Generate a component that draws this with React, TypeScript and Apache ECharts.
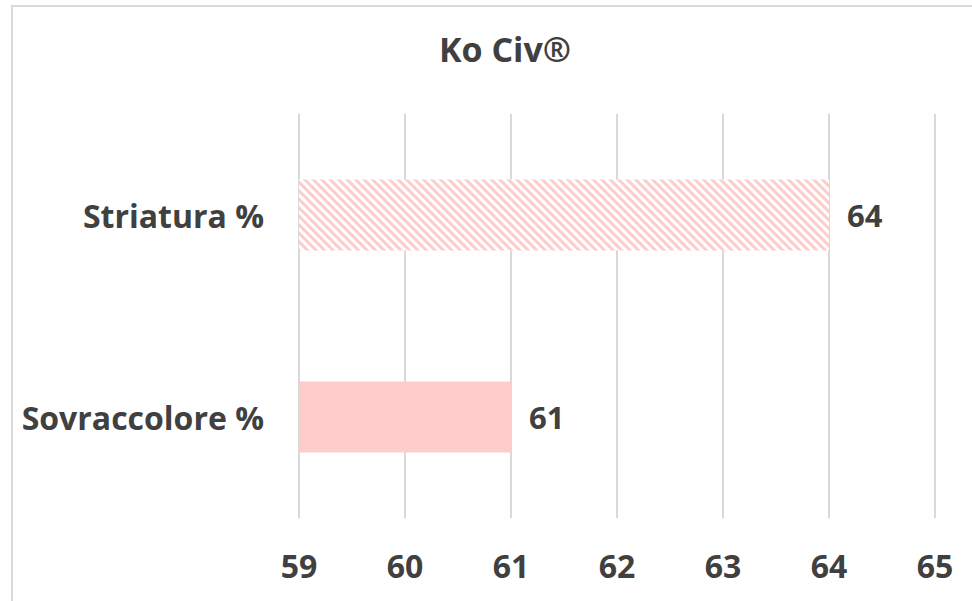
import React, { useEffect, useRef } from "react";
import * as echarts from "echarts";

const title = "Ko Civ®";
const categories = ["Sovraccolore %", "Striatura %"];
const values = [61, 64];
const hatched = [false, true];
const xMin = 59;
const xMax = 65;
const xInterval = 1;

export default function App() {
  const ref = useRef<HTMLDivElement>(null);
  useEffect(() => {
    if (!ref.current) return;
    const chart = echarts.init(ref.current, undefined, { renderer: "svg" });
    const textColor = "#404040";
    const font = "'Open Sans', sans-serif";
    chart.setOption({
      animation: false,
      backgroundColor: "#ffffff",
      title: {
        text: title,
        left: 500,
        textAlign: "center",
        top: 27,
        textStyle: { fontFamily: font, fontWeight: "bold", fontSize: 34, color: textColor },
      },
      graphic: [
        {
          type: "rect",
          shape: { x: 12, y: 6, width: 1000, height: 700 },
          style: { fill: "none", stroke: "#d9d9d9", lineWidth: 2 },
          silent: true,
        },
      ],
      grid: { left: 299, right: 37, top: 114, bottom: 83 },
      xAxis: {
        type: "value",
        min: xMin,
        max: xMax,
        interval: xInterval,
        axisLine: { show: false },
        axisTick: { show: false },
        splitLine: { show: true, lineStyle: { color: "#d9d9d9", width: 2 } },
        axisLabel: {
          margin: 31,
          fontFamily: font,
          fontWeight: "bold",
          fontSize: 32,
          color: textColor,
        },
      },
      yAxis: {
        type: "category",
        data: categories,
        axisLine: { show: false },
        axisTick: { show: false },
        axisLabel: {
          margin: 35,
          fontFamily: font,
          fontWeight: "bold",
          fontSize: 32,
          color: textColor,
        },
      },
      series: [
        {
          type: "bar",
          barWidth: 71,
          data: values.map((v, i) =>
            hatched[i]
              ? {
                  value: v,
                  itemStyle: {
                    color: "#ffffff",
                    decal: {
                      symbol: "rect",
                      color: "#ffcccc",
                      dashArrayX: [1, 0],
                      dashArrayY: [3, 3],
                      rotation: Math.PI / 4,
                    },
                  },
                }
              : { value: v, itemStyle: { color: "#ffcccc" } }
          ),
          label: {
            show: true,
            position: "right",
            distance: 18,
            fontFamily: font,
            fontWeight: "bold",
            fontSize: 31,
            color: textColor,
          },
        },
      ],
    });
    return () => chart.dispose();
  }, []);
  return (
    <div
      ref={ref}
      style={{ position: "fixed", left: 0, top: 0, width: 972, height: 601 }}
    />
  );
}
